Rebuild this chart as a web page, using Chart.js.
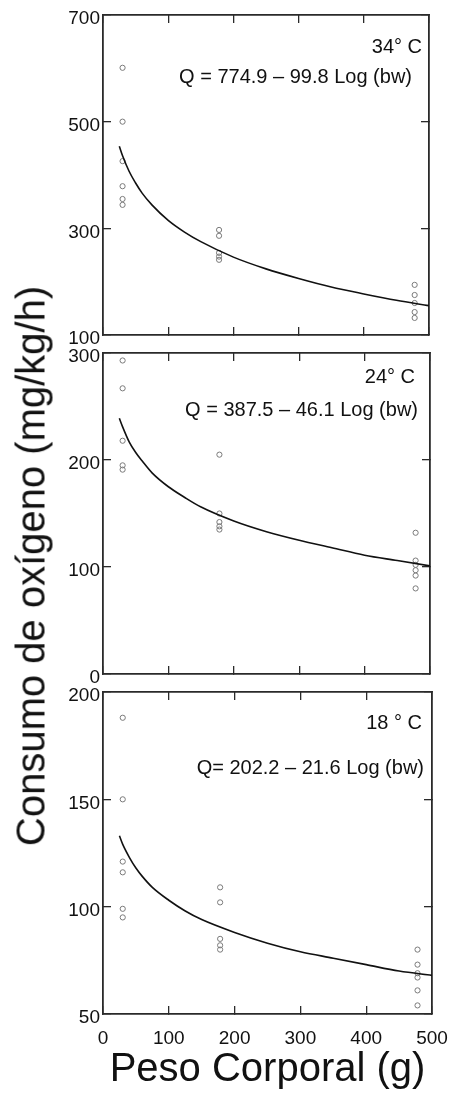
<!DOCTYPE html>
<html>
<head>
<meta charset="utf-8">
<script src="https://cdn.jsdelivr.net/npm/chart.js@4"></script>
<style>
  html, body { margin: 0; padding: 0; background: #fff; }
  #wrap { position: relative; width: 454px; height: 1099px; overflow: hidden; }
  #wrap canvas { position: absolute; left: 0; }
  #ytitle {
    position: absolute; left: 31px; top: 566px;
    transform: translate(-50%, -50%) rotate(-90deg);
    font: 40px "Liberation Sans", Arial, sans-serif; color: #111; white-space: nowrap;
  }
</style>
</head>
<body>
<div id="wrap">
  <canvas id="c34" width="454" height="350" style="top:0px"></canvas>
  <canvas id="c24" width="454" height="351" style="top:338px"></canvas>
  <canvas id="c18" width="454" height="422" style="top:677px"></canvas>
  <div id="ytitle">Consumo de oxígeno (mg/kg/h)</div>
</div>
<script>
// body mass of the three groups (g)
const bodyMass = [30, 178, 478];
// body mass where the fitted curve was read (g)
const curveMass = [25, 30, 40, 50, 60, 75, 100, 125, 150, 200, 250, 300, 350, 400, 450, 500];

// 34 °C
const obs34 = [[601, 500, 426, 379, 355, 344], [297, 286, 254, 247, 241], [194, 175, 160, 143, 132]];
const fit34 = [454, 436, 407, 385, 366, 344, 315, 293, 275, 246, 224, 206, 190, 177, 165, 155];
const ticks34 = [100, 300, 500, 700];

// 24 °C
const obs24 = [[293, 267, 218, 195, 191], [205, 150, 142, 138, 135], [132, 106, 102, 97, 92, 80]];
const fit24 = [239, 231, 217, 207, 199, 188, 175, 165, 156, 143, 133, 125, 118, 111, 106, 101];
const ticks24 = [0, 100, 200, 300];

// 18 °C
const obs18 = [[188, 150, 121, 116, 99, 95], [109, 102, 85, 82, 80], [80, 73, 69, 67, 61, 54]];
const fit18 = [133, 129, 123, 118, 114, 109, 103, 98, 94, 88, 83, 79, 76, 73, 70, 68];
const ticks18 = [50, 100, 150, 200];

const massTicks = [0, 100, 200, 300, 400, 500];

const FONT = '"Liberation Sans", Arial, sans-serif';
const INK = '#111';
const FRAME = '#2a2a2a';

// equation / temperature labels in the upper right corner
const notesPlugin = {
  id: 'notes',
  afterDraw(chart, args, opts) {
    const { ctx, chartArea } = chart;
    ctx.save();
    ctx.font = '20px ' + FONT;
    ctx.fillStyle = INK;
    ctx.textAlign = 'right';
    ctx.textBaseline = 'middle';
    (opts.lines || []).forEach(l => ctx.fillText(l.text, chartArea.right - l.dx, chartArea.top + l.dy));
    ctx.restore();
  }
};

function inTicks(list) {
  // keep only the listed tick values
  return scale => { scale.ticks = list.map(v => ({ value: v })); };
}

// axis box size fixed, label overhang left to the layout padding
function fixSize(size) {
  return s => {
    if (s.isHorizontal()) s.height = size; else s.width = size;
    s.paddingLeft = s.paddingRight = s.paddingTop = s.paddingBottom = 0;
  };
}

function edgeAxis(pos, min, max, list) {
  return {
    type: 'linear', position: pos, min, max,
    afterBuildTicks: inTicks(list),
    ticks: { display: false },
    grid: { drawOnChartArea: false, tickLength: -8, color: FRAME, lineWidth: 1.3 },
    border: { display: true, color: FRAME, width: 1.8 },
    afterFit: fixSize(0)
  };
}

function makePanel(id, obs, fit, yTicks, notes, pad, showX) {
  const yMin = yTicks[0], yMax = yTicks[yTicks.length - 1];
  const points = obs.flatMap((ys, i) => ys.map(v => ({ x: bodyMass[i], y: v })));
  const curve = curveMass.map((m, i) => ({ x: m, y: fit[i] }));

  const xAxis = edgeAxis('bottom', 0, 500, massTicks);
  if (showX) {
    xAxis.ticks = { display: true, color: INK, font: { family: FONT, size: 19 }, padding: 21, maxRotation: 0 };
    xAxis.title = { display: true, text: 'Peso Corporal (g)', color: INK, font: { family: FONT, size: 40 }, padding: { top: 0, bottom: 5 } };
    xAxis.afterFit = fixSize(85);
  }

  const yAxis = edgeAxis('left', yMin, yMax, yTicks);
  yAxis.ticks = { display: true, color: INK, font: { family: FONT, size: 19 }, padding: 11, labelOffset: 4 };
  yAxis.afterFit = fixSize(103);

  new Chart(document.getElementById(id), {
    type: 'scatter',
    data: {
      datasets: [
        {
          data: curve, showLine: true, pointRadius: 0,
          borderColor: INK, borderWidth: 1.6, tension: 0.4, cubicInterpolationMode: 'monotone'
        },
        {
          data: points, pointStyle: 'circle', pointRadius: 2.6,
          borderColor: '#7a7a7a', borderWidth: 1, backgroundColor: 'rgba(0,0,0,0)'
        }
      ]
    },
    options: {
      responsive: false,
      animation: false,
      devicePixelRatio: 1,
      layout: { padding: pad },
      plugins: { legend: { display: false }, tooltip: { enabled: false }, notes: { lines: notes } },
      scales: {
        x: xAxis,
        xTop: edgeAxis('top', 0, 500, massTicks),
        y: yAxis,
        yRight: edgeAxis('right', yMin, yMax, yTicks)
      }
    },
    plugins: [notesPlugin]
  });
}

makePanel('c34', obs34, fit34, ticks34,
  [{ text: '34° C', dx: 7, dy: 32 }, { text: 'Q = 774.9 – 99.8 Log (bw)', dx: 17, dy: 62 }],
  { top: 15, bottom: 15, left: 0, right: 25 }, false);

makePanel('c24', obs24, fit24, ticks24,
  [{ text: '24° C', dx: 15, dy: 24 }, { text: 'Q = 387.5 – 46.1 Log (bw)', dx: 12, dy: 57 }],
  { top: 15, bottom: 15, left: 0, right: 24 }, false);

makePanel('c18', obs18, fit18, ticks18,
  [{ text: '18 ° C', dx: 10, dy: 31 }, { text: 'Q= 202.2 – 21.6 Log (bw)', dx: 8, dy: 76 }],
  { top: 15, bottom: 0, left: 0, right: 22 }, true);
</script>
</body>
</html>
